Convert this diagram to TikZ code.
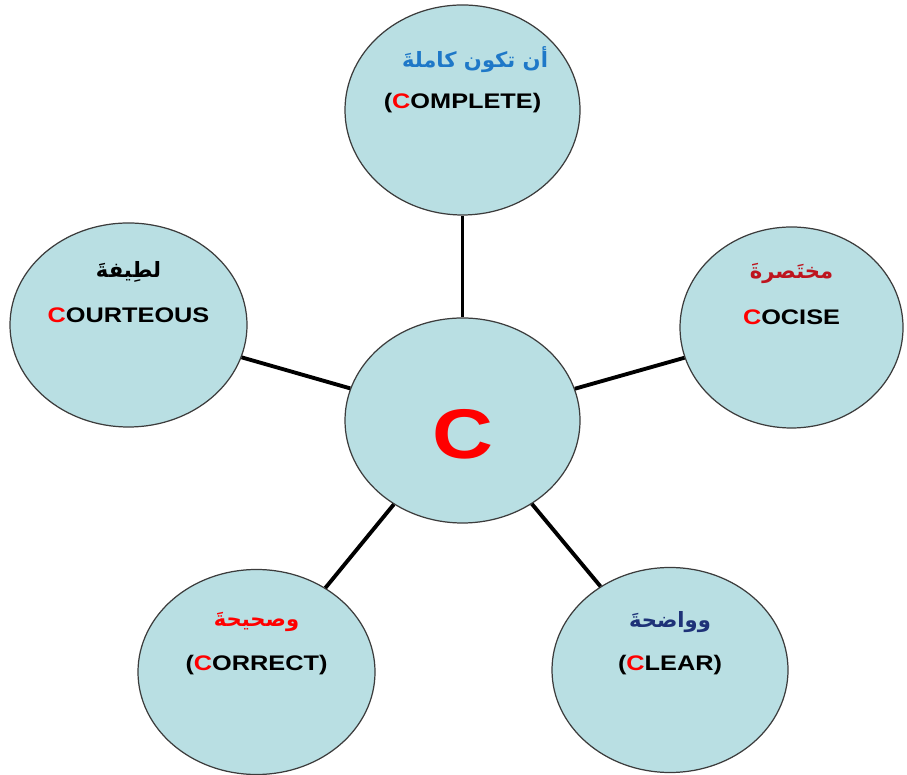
\documentclass[tikz,border=0pt]{standalone}
\usepackage{fontspec}
\usepackage{xcolor}
\usetikzlibrary{shapes.geometric, positioning}
\TeXXeTstate=1
\newfontfamily\enfont[FakeStretch=1.2]{Liberation Sans}
\newfontfamily\arabicfont[Script=Arabic]{DejaVu Sans}
\definecolor{bubblefill}{RGB}{185,223,227}
\definecolor{bubbleline}{RGB}{60,60,60}
\definecolor{arblue}{RGB}{30,120,200}
\definecolor{ardarkred}{RGB}{190,20,30}
\definecolor{arnavy}{RGB}{30,50,120}
\tikzset{%
  bubble/.style = {ellipse,draw=bubbleline,fill=bubblefill,line width=0.7pt,
        inner sep=0pt,minimum width=4.7cm,minimum height=4.1cm},
  spoke/.style = {line width=2.2pt,black},
  en/.style = {font=\enfont\bfseries\fontsize{12}{14}\selectfont,inner sep=1pt},
  ar/.style = {font=\arabicfont\bfseries\fontsize{12}{14}\selectfont,inner sep=1pt}
}
\newcommand{\cC}{\textcolor{red}{C}}
\newcommand{\ar}[1]{\beginR #1\endR}

\begin{document}
\begin{tikzpicture}
        \useasboundingbox (0,0) rectangle (18.14,15.48);
        % bubbles
        \node[bubble] (mid) at (9.25,7.07) {};
        \node[bubble,minimum height=4.2cm] (complete) at (9.25,13.28) {};
        \node[bubble,minimum width=4.74cm,minimum height=4.08cm] (courteous) at (2.57,8.98) {};
        \node[bubble,minimum width=4.46cm,minimum height=4.02cm] (concise) at (15.83,8.93) {};
        \node[bubble,minimum width=4.74cm] (correct) at (5.13,2.04) {};
        \node[bubble,minimum width=4.72cm] (clear) at (13.4,2.08) {};
        % spokes
        \draw[spoke] (mid) -- (complete);
        \draw[spoke] (mid) -- (courteous);
        \draw[spoke] (mid) -- (concise);
        \draw[spoke] (mid) -- (correct);
        \draw[spoke] (mid) -- (clear);
        % texts
        \node[font=\enfont\bfseries\fontsize{40}{40}\selectfont,text=red] (midc) at (9.25,6.8) {C};
        \node[en] (complete-en) at ([yshift=0.14cm]complete.center) {(\cC OMPLETE)};
        \node[ar,text=arblue] (complete-ar) at ([xshift=0.25cm,yshift=1.0cm]complete.center) {\ar{أن تكون كاملةَ}};
        \node[en] (courteous-en) at ([yshift=0.2cm]courteous.center) {\cC OURTEOUS};
        \node[ar] (courteous-ar) at ([yshift=1.06cm]courteous.center) {\ar{لطِيفةَ}};
        \node[en] (concise-en) at ([yshift=0.2cm]concise.center) {\cC OCISE};
        \node[ar,text=ardarkred] (concise-ar) at ([yshift=1.08cm]concise.center) {\ar{مختَصرةَ}};
        \node[en] (correct-en) at ([yshift=0.14cm]correct.center) {(\cC ORRECT)};
        \node[ar,text=red] (correct-ar) at ([yshift=1.0cm]correct.center) {\ar{وصحيحةَ}};
        \node[en] (clear-en) at ([yshift=0.1cm]clear.center) {(\cC LEAR)};
        \node[ar,text=arnavy] (clear-ar) at ([yshift=0.96cm]clear.center) {\ar{وواضحةَ}};
\end{tikzpicture}
\end{document}
